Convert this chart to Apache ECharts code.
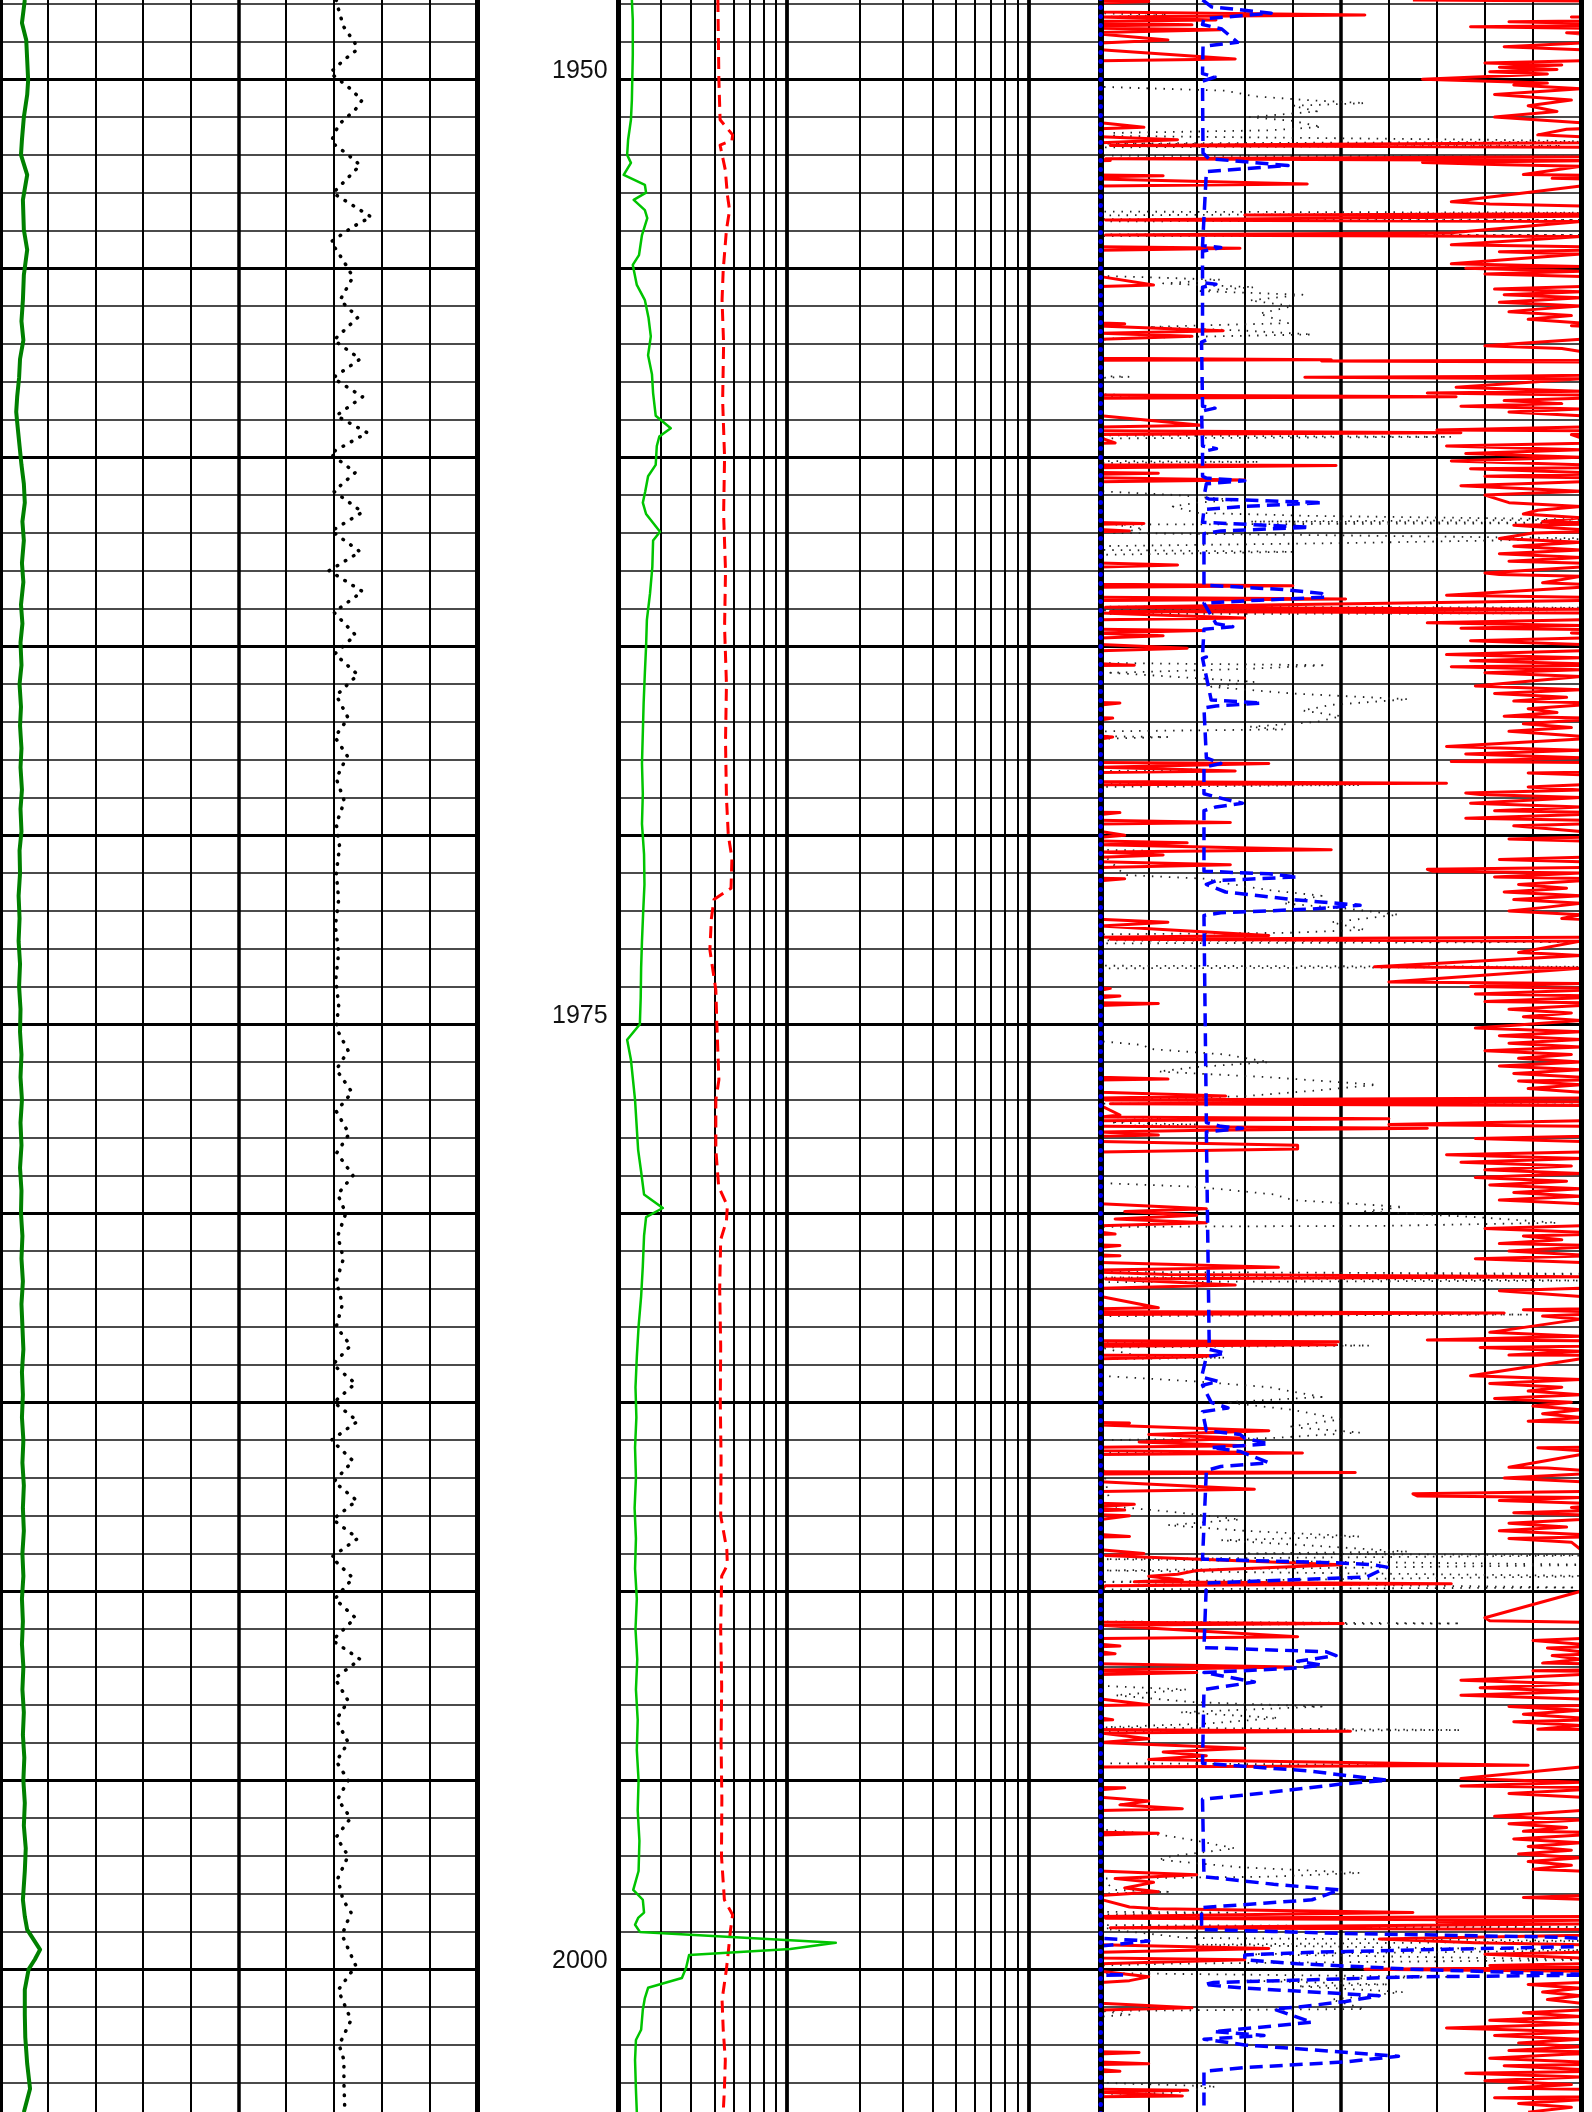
<!DOCTYPE html>
<html><head><meta charset="utf-8">
<script src="https://cdn.jsdelivr.net/npm/echarts@6/dist/echarts.min.js"></script>
<style>html,body{margin:0;padding:0;background:#fff}#c{width:1592px;height:2112px}</style>
</head><body><div id="c"></div><script>
// ---- scales / tick values ----
const DEPTH_RANGE = [1945, 2005];
const DEPTH_LABELS = [1950, 1975, 2000];
const TRACK1_RANGE = [0, 10];
const TRACK1_MID = [5];
const TRACK2_RANGE = [2, 200];
const TRACK2_MAJOR = [10, 100];
const TRACK2_MINOR = [3, 4, 5, 6, 7, 8, 9, 20, 30, 40, 50, 60, 70, 80, 90];
const TRACK3_RANGE = [0, 10];
const TRACK3_MID = [5];
const TRACK3_WRAP = [10, 20];

// ---- curves: [depth, value] ----
const gr1 = [[1947.9,0.52],[1948.51,0.46],[1948.96,0.55],[1949.49,0.57],[1950.02,0.59],[1950.41,0.57],[1951.0,0.5],[1951.6,0.46],[1952.0,0.44],[1952.53,0.57],[1953.19,0.48],[1953.98,0.5],[1954.51,0.57],[1955.18,0.5],[1955.84,0.48],[1956.4,0.45],[1956.9,0.49],[1957.4,0.42],[1957.9,0.4],[1958.4,0.36],[1958.8,0.34],[1959.2,0.37],[1959.7,0.41],[1960.2,0.45],[1960.7,0.5],[1961.2,0.52],[1961.7,0.47],[1962.2,0.5],[1962.8,0.46],[1963.3,0.49],[1963.9,0.44],[1964.4,0.47],[1964.9,0.43],[1965.5,0.45],[1966.0,0.41],[1966.6,0.44],[1967.1,0.42],[1967.7,0.45],[1968.2,0.43],[1968.8,0.46],[1969.3,0.43],[1969.9,0.45],[1970.4,0.41],[1971.0,0.42],[1971.6,0.39],[1972.2,0.41],[1972.8,0.39],[1973.4,0.42],[1974.0,0.4],[1974.6,0.43],[1975.2,0.42],[1975.8,0.45],[1976.4,0.43],[1977.0,0.46],[1977.6,0.43],[1978.2,0.45],[1978.8,0.42],[1979.4,0.45],[1980.0,0.44],[1980.6,0.47],[1981.2,0.45],[1981.8,0.48],[1982.4,0.45],[1983.0,0.47],[1983.6,0.49],[1984.2,0.46],[1984.8,0.48],[1985.4,0.46],[1986.0,0.49],[1986.6,0.47],[1987.2,0.5],[1987.8,0.48],[1988.4,0.5],[1989.0,0.47],[1989.6,0.49],[1990.2,0.46],[1990.8,0.48],[1991.4,0.46],[1992.0,0.49],[1992.6,0.47],[1993.2,0.5],[1993.8,0.48],[1994.4,0.51],[1995.0,0.49],[1995.6,0.52],[1996.2,0.5],[1996.8,0.54],[1997.4,0.52],[1998.16,0.48],[1998.6,0.52],[1998.95,0.57],[1999.48,0.84],[1999.74,0.73],[2000.0,0.6],[2000.54,0.52],[2001.2,0.52],[2001.8,0.53],[2002.5,0.57],[2003.16,0.63],[2003.78,0.5]];

const dt1 = [[1947.9,7.05],[1948.03,7.07],[1948.6,7.2],[1949.04,7.44],[1949.22,7.48],[1949.5,7.2],[1949.83,6.92],[1950.2,7.3],[1950.55,7.59],[1950.8,7.45],[1951.2,7.1],[1951.66,6.94],[1952.0,7.3],[1952.27,7.55],[1952.6,7.3],[1953.01,6.98],[1953.3,7.35],[1953.64,7.78],[1953.9,7.4],[1954.3,6.94],[1954.8,7.2],[1955.23,7.4],[1955.84,7.13],[1956.3,7.5],[1956.9,7.0],[1957.4,7.55],[1957.9,6.98],[1958.4,7.6],[1958.9,7.05],[1959.35,7.7],[1959.9,6.92],[1960.4,7.45],[1960.9,7.0],[1961.45,7.6],[1961.95,6.95],[1962.5,7.55],[1963.0,6.9],[1963.55,7.6],[1964.1,7.0],[1964.7,7.45],[1965.2,7.02],[1965.75,7.5],[1966.3,7.05],[1966.9,7.3],[1967.4,7.02],[1967.9,7.28],[1968.5,7.05],[1969.1,7.22],[1969.7,7.05],[1970.3,7.12],[1971.0,7.05],[1971.7,7.1],[1972.4,7.03],[1973.1,7.1],[1973.8,7.04],[1974.5,7.1],[1975.1,7.05],[1975.7,7.3],[1976.2,7.05],[1976.8,7.38],[1977.3,7.05],[1977.9,7.32],[1978.4,7.06],[1979.0,7.4],[1979.5,7.08],[1980.0,7.25],[1980.6,7.08],[1981.2,7.2],[1981.8,7.05],[1982.4,7.18],[1983.0,7.05],[1983.5,7.35],[1984.0,6.98],[1984.5,7.45],[1985.0,7.0],[1985.5,7.5],[1986.0,6.95],[1986.55,7.4],[1987.1,7.0],[1987.6,7.48],[1988.1,6.98],[1988.6,7.5],[1989.1,6.95],[1989.65,7.4],[1990.2,7.02],[1990.7,7.45],[1991.3,6.97],[1991.8,7.55],[1992.3,7.02],[1992.9,7.3],[1993.4,7.05],[1994.0,7.3],[1994.5,7.05],[1995.0,7.3],[1995.5,7.08],[1996.0,7.35],[1996.5,7.05],[1997.0,7.3],[1997.6,7.08],[1998.16,7.19],[1998.5,7.36],[1999.09,7.17],[1999.91,7.46],[2000.55,7.09],[2001.34,7.36],[2002.0,7.11],[2002.4,7.21],[2003.0,7.21],[2003.78,7.23]];

const gr2 = [[1947.9,2.27],[1948.43,2.29],[1949.36,2.29],[1950.55,2.27],[1951.07,2.25],[1951.6,2.19],[1952.0,2.17],[1952.21,2.25],[1952.53,2.1],[1952.79,2.57],[1953.0,2.6],[1953.19,2.31],[1953.46,2.57],[1953.67,2.63],[1954.12,2.5],[1954.65,2.43],[1954.91,2.29],[1955.44,2.38],[1955.84,2.57],[1956.3,2.66],[1956.8,2.72],[1957.3,2.65],[1957.8,2.75],[1958.3,2.78],[1958.9,2.85],[1959.23,3.29],[1959.45,2.95],[1959.7,2.88],[1960.2,2.85],[1960.5,2.65],[1960.9,2.58],[1961.2,2.52],[1961.5,2.6],[1961.97,2.97],[1962.2,2.78],[1962.9,2.76],[1963.6,2.7],[1964.3,2.62],[1965.0,2.6],[1965.7,2.57],[1966.5,2.54],[1967.3,2.52],[1968.1,2.5],[1968.9,2.52],[1969.7,2.5],[1970.5,2.55],[1971.3,2.56],[1972.0,2.53],[1972.8,2.5],[1973.5,2.48],[1974.3,2.47],[1975.0,2.45],[1975.41,2.17],[1975.94,2.25],[1977.0,2.34],[1978.32,2.41],[1978.9,2.48],[1979.5,2.55],[1979.86,3.05],[1980.1,2.6],[1980.6,2.55],[1981.4,2.52],[1982.2,2.48],[1983.0,2.42],[1983.8,2.38],[1984.6,2.35],[1985.4,2.37],[1986.2,2.34],[1987.0,2.36],[1987.8,2.33],[1988.6,2.36],[1989.4,2.34],[1990.2,2.38],[1991.0,2.35],[1991.8,2.39],[1992.6,2.36],[1993.4,2.4],[1994.2,2.38],[1995.0,2.42],[1995.8,2.4],[1996.6,2.44],[1997.4,2.42],[1997.9,2.3],[1998.16,2.52],[1998.5,2.55],[1998.64,2.41],[1998.82,2.34],[1999.01,2.45],[1999.3,15.9],[1999.46,10.3],[1999.62,3.92],[1999.96,3.81],[2000.23,3.66],[2000.49,2.65],[2000.76,2.57],[2001.07,2.52],[2001.6,2.48],[2001.87,2.36],[2002.4,2.34],[2003.19,2.36],[2003.78,2.38]];

const rd2 = [[1947.9,5.16],[1950.02,5.21],[1951.07,5.27],[1951.47,5.94],[1951.62,5.9],[1951.74,5.27],[1952.4,5.54],[1953.06,5.65],[1953.46,5.77],[1953.98,5.6],[1955.04,5.43],[1955.84,5.37],[1957.0,5.45],[1958.5,5.4],[1960.0,5.5],[1961.5,5.45],[1963.0,5.55],[1964.5,5.5],[1966.0,5.6],[1967.5,5.55],[1969.0,5.6],[1970.0,5.7],[1970.6,5.9],[1971.4,5.85],[1971.7,4.97],[1972.2,4.85],[1973.03,4.78],[1974.09,5.06],[1975.0,5.11],[1976.47,5.21],[1977.0,5.06],[1978.32,5.06],[1979.3,5.2],[1979.8,5.65],[1980.2,5.6],[1980.7,5.3],[1982.0,5.25],[1983.5,5.3],[1985.0,5.28],[1986.5,5.32],[1988.0,5.3],[1988.9,5.62],[1989.3,5.65],[1989.6,5.35],[1991.0,5.3],[1992.5,5.35],[1994.0,5.32],[1995.5,5.36],[1997.0,5.34],[1998.16,5.49],[1998.56,5.94],[1998.96,5.82],[1999.49,5.71],[1999.99,5.6],[2000.81,5.37],[2001.6,5.43],[2002.4,5.54],[2003.19,5.49],[2003.78,5.43]];

const res3 = [[1947.9,6.5],[1947.94,11.0],[1947.98,10],[1948.22,10],[1948.3,15.5],[1948.35,9.8],[1948.43,12.4],[1948.48,8.5],[1948.56,11.9],[1948.61,7.7],[1948.69,12.5],[1948.77,9.7],[1948.96,11.4],[1949.04,10],[1949.14,8.4],[1949.22,10],[1949.46,12.8],[1949.51,10],[1949.57,8.0],[1949.62,9.6],[1949.68,8.3],[1949.74,9.5],[1949.8,8.1],[1949.86,9.3],[1950.0,6.7],[1950.1,9.3],[1950.15,8.6],[1950.25,10],[1950.4,8.2],[1950.55,9.8],[1950.7,8.9],[1950.85,9.5],[1951.0,8.2],[1951.15,10],[1951.27,10.9],[1951.32,9.7],[1951.47,9.1],[1951.52,10],[1951.6,11.6],[1951.68,10],[1951.75,0.2],[1951.8,10],[1952.05,10],[1952.1,0.1],[1952.15,10.2],[1952.2,6.7],[1952.26,8.4],[1952.3,10],[1952.52,8.8],[1952.55,11.3],[1952.58,10],[1952.62,9.4],[1952.77,14.3],[1952.82,10],[1953.24,7.3],[1953.3,8.1],[1953.35,10],[1953.56,10],[1953.59,3.0],[1953.62,10],[1953.72,0.1],[1953.76,10],[1954.06,7.3],[1954.12,0.1],[1954.16,10],[1954.38,7.3],[1954.43,10],[1954.47,12.9],[1954.52,10],[1954.56,8.3],[1954.62,10],[1954.88,7.3],[1954.95,10],[1955.0,7.6],[1955.08,10],[1955.15,8.0],[1955.22,10],[1955.44,11.1],[1955.48,10],[1955.55,8.2],[1955.62,10],[1955.7,8.4],[1955.78,10],[1955.9,8.3],[1956.0,10],[1956.08,9.1],[1956.15,8.5],[1956.25,9.8],[1956.35,8.9],[1956.45,10],[1956.47,10.5],[1956.52,9.8],[1956.65,12.55],[1956.72,10],[1956.8,11.9],[1956.88,10],[1957.05,8.0],[1957.12,9.6],[1957.2,10],[1957.38,10],[1957.42,14.8],[1957.45,4.6],[1957.48,10],[1957.83,10],[1957.86,7.97],[1957.88,4.25],[1957.92,10],[1958.15,7.4],[1958.25,10],[1958.3,6.8],[1958.35,10],[1958.4,17.4],[1958.44,10],[1958.5,8.4],[1958.58,9.6],[1958.65,7.5],[1958.72,10],[1958.8,8.5],[1958.9,10],[1959.15,12.1],[1959.2,10],[1959.28,7.0],[1959.35,17.5],[1959.4,9.8],[1959.62,10.3],[1959.7,7.2],[1959.8,10],[1959.9,7.6],[1960.0,10],[1960.1,7.3],[1960.2,10],[1960.22,14.9],[1960.3,7.7],[1960.4,10],[1960.42,11.2],[1960.5,8.0],[1960.6,13.0],[1960.65,10],[1960.75,7.5],[1960.9,10],[1961.0,8.0],[1961.2,8.5],[1961.3,10],[1961.4,9.1],[1961.5,8.8],[1961.6,10],[1961.7,9.2],[1961.75,10.9],[1961.8,8.6],[1961.9,9.8],[1961.95,10.6],[1962.0,9.0],[1962.15,8.3],[1962.25,10],[1962.35,8.6],[1962.45,10],[1962.55,8.3],[1962.65,10],[1962.75,8.5],[1962.85,11.6],[1962.9,10],[1963.06,8.0],[1963.1,8.3],[1963.15,10],[1963.32,9.2],[1963.36,10],[1963.4,14.0],[1963.44,10],[1963.65,7.2],[1963.7,10],[1963.75,15.1],[1963.79,10],[1963.97,0.1],[1964.02,10],[1964.08,0.2],[1964.12,10],[1964.25,13.0],[1964.3,10],[1964.38,6.8],[1964.45,10],[1964.52,7.5],[1964.58,12.1],[1964.65,9.8],[1964.72,11.3],[1964.78,10],[1964.85,7.7],[1964.95,10],[1965.05,11.8],[1965.12,10],[1965.22,7.2],[1965.3,10],[1965.38,7.7],[1965.46,10],[1965.5,10.7],[1965.54,7.3],[1965.62,10],[1965.7,8.0],[1965.8,10],[1966.05,7.8],[1966.15,10],[1966.25,8.2],[1966.35,9.7],[1966.45,8.6],[1966.5,10.4],[1966.55,10],[1966.65,8.9],[1966.75,9.5],[1966.85,8.4],[1966.9,10.25],[1966.95,10],[1967.05,8.8],[1967.15,9.8],[1967.25,8.5],[1967.4,10.25],[1967.45,10],[1967.65,7.2],[1967.75,10],[1967.85,7.6],[1967.95,10],[1968.05,7.3],[1968.1,13.5],[1968.2,10],[1968.3,12.8],[1968.35,8.9],[1968.4,10],[1968.58,10],[1968.62,17.2],[1968.66,10],[1968.72,8.9],[1968.8,10],[1968.88,7.6],[1968.92,7.9],[1969.0,10],[1969.15,7.7],[1969.25,10],[1969.35,8.2],[1969.4,10.4],[1969.45,10],[1969.55,7.6],[1969.66,12.7],[1969.7,10],[1969.75,8.6],[1969.9,10],[1970.0,10.5],[1970.05,10],[1970.1,8.5],[1970.15,10],[1970.2,11.8],[1970.25,10],[1970.38,14.8],[1970.44,10],[1970.52,11.3],[1970.58,10],[1970.64,8.3],[1970.7,10],[1970.78,12.7],[1970.85,10],[1970.9,6.8],[1970.95,6.9],[1971.0,10],[1971.1,8.2],[1971.15,10.5],[1971.2,10],[1971.3,8.7],[1971.4,9.7],[1971.5,8.4],[1971.6,10],[1971.7,8.6],[1971.8,10],[1971.9,9.3],[1972.0,8.5],[1972.1,10],[1972.2,9.6],[1972.3,11.4],[1972.4,10],[1972.65,13.5],[1972.7,10],[1972.75,0.2],[1972.8,10],[1973.1,8.7],[1973.14,9.4],[1973.18,10],[1973.48,5.7],[1973.52,10],[1973.88,6.0],[1973.92,10],[1974.0,7.7],[1974.05,10.2],[1974.1,10],[1974.2,7.8],[1974.25,10.4],[1974.3,10],[1974.4,8.0],[1974.45,11.2],[1974.5,10],[1974.6,8.5],[1974.7,9.8],[1974.8,8.8],[1974.9,10],[1975.1,7.8],[1975.2,10],[1975.3,8.3],[1975.4,10],[1975.5,8.5],[1975.6,10],[1975.7,8.0],[1975.8,9.8],[1975.9,8.7],[1976.0,10],[1976.1,8.3],[1976.2,10],[1976.3,8.6],[1976.4,10],[1976.45,11.4],[1976.5,8.7],[1976.6,10],[1976.7,8.9],[1976.8,10],[1976.9,12.6],[1976.95,10],[1977.0,0.1],[1977.05,10],[1977.1,0.2],[1977.15,10],[1977.4,10.4],[1977.45,10],[1977.5,16.0],[1977.55,10],[1977.65,6.0],[1977.7,10],[1977.75,16.8],[1977.8,12.2],[1977.85,10],[1977.93,11.2],[1978.02,7.8],[1978.1,10],[1978.2,14.1],[1978.3,14.1],[1978.38,10],[1978.45,7.2],[1978.55,10],[1978.65,7.5],[1978.75,9.8],[1978.85,8.0],[1978.95,10],[1979.05,7.8],[1979.15,9.7],[1979.25,8.1],[1979.35,10],[1979.45,8.6],[1979.55,10],[1979.65,8.3],[1979.75,10],[1979.88,12.2],[1979.95,10.5],[1980.05,12.0],[1980.15,10.3],[1980.25,12.2],[1980.33,10],[1980.4,8.0],[1980.5,10],[1980.55,10.3],[1980.6,8.8],[1980.7,9.6],[1980.8,8.3],[1980.85,10.4],[1980.9,10],[1981.0,8.5],[1981.1,10],[1981.12,10.4],[1981.2,7.8],[1981.3,10],[1981.43,13.7],[1981.5,10],[1981.56,10],[1981.62,11.4],[1981.68,20.1],[1981.74,10.1],[1981.9,12.8],[1981.98,10],[1982.05,8.3],[1982.2,10],[1982.5,11.2],[1982.55,8.8],[1982.6,10],[1982.64,18.4],[1982.68,10],[1982.72,9.2],[1982.8,10],[1983.15,8.1],[1983.25,10],[1983.35,6.8],[1983.4,14.95],[1983.45,10],[1983.48,14.9],[1983.52,10],[1983.55,7.9],[1983.65,10],[1983.75,8.5],[1983.76,12.4],[1983.8,11.9],[1983.85,10],[1984.3,7.7],[1984.4,10],[1984.5,8.1],[1984.6,9.6],[1984.7,8.9],[1984.8,10],[1984.9,8.2],[1985.0,9.8],[1985.1,9.0],[1985.2,10],[1985.3,9.2],[1985.4,10],[1985.5,8.9],[1985.55,10.6],[1985.6,10],[1985.75,13.5],[1985.85,11.0],[1985.95,13.0],[1986.05,10.8],[1986.15,13.0],[1986.2,9.1],[1986.28,10],[1986.31,12.1],[1986.34,14.2],[1986.38,10],[1986.72,8.5],[1986.74,9.3],[1986.8,10],[1986.84,10.1],[1986.86,15.3],[1986.9,10],[1987.0,8.4],[1987.1,10],[1987.3,13.2],[1987.36,10],[1987.42,6.5],[1987.48,6.6],[1987.52,10],[1987.6,8.3],[1987.7,10.7],[1987.78,9.8],[1987.85,10.5],[1987.92,8.6],[1988.0,10.6],[1988.1,10],[1988.2,8.5],[1988.3,9.7],[1988.4,8.3],[1988.5,10],[1988.55,10.6],[1988.6,8.5],[1988.7,9.8],[1988.9,10],[1989.0,10.9],[1989.05,10.1],[1989.1,11.0],[1989.3,15.0],[1989.45,12.0],[1989.55,11.6],[1989.6,11.0],[1989.7,11.7],[1989.75,10.7],[1989.8,17.3],[1989.85,10.1],[1990.0,10],[1990.7,8.0],[1990.78,8.1],[1990.82,10],[1990.85,15.05],[1990.9,10],[1991.2,14.1],[1991.25,10],[1991.3,9.0],[1991.4,10],[1991.45,10.4],[1991.5,9.3],[1991.6,10],[1991.65,10.3],[1991.7,9.4],[1991.8,10],[1991.9,9.2],[1992.0,14.0],[1992.08,10],[1992.1,9.0],[1992.15,12.0],[1992.2,10],[1992.35,7.5],[1992.45,10],[1992.55,7.9],[1992.65,10],[1992.75,7.5],[1992.85,10],[1993.0,11.0],[1993.05,8.5],[1993.15,10],[1993.25,8.8],[1993.35,10],[1993.4,10.25],[1993.45,8.6],[1993.55,10],[1993.65,9.1],[1993.7,15.2],[1993.75,10],[1993.9,11.0],[1994.0,10],[1994.15,13.0],[1994.25,11.3],[1994.35,12.2],[1994.45,11.0],[1994.6,18.9],[1994.65,10],[1994.95,7.5],[1995.05,10],[1995.15,7.5],[1995.2,10.5],[1995.25,10],[1995.35,8.5],[1995.45,10],[1995.55,11.0],[1995.65,10.4],[1995.75,11.7],[1995.8,10],[1995.95,8.2],[1996.05,10],[1996.15,8.5],[1996.25,9.7],[1996.35,8.8],[1996.4,11.2],[1996.45,10],[1996.55,8.6],[1996.65,10],[1996.75,8.9],[1996.85,9.8],[1996.95,8.7],[1997.05,10],[1997.15,8.9],[1997.25,9.8],[1997.35,9.0],[1997.5,12.0],[1997.6,10.3],[1997.7,11.1],[1997.85,10.5],[1997.95,11.2],[1998.05,10],[1998.1,8.8],[1998.15,10],[1998.35,10.6],[1998.4,11.2],[1998.5,16.5],[1998.6,10],[1998.65,0.1],[1998.7,10],[1998.75,7.0],[1998.8,10],[1998.9,0.2],[1998.95,10],[1999.1,10],[1999.2,5.8],[1999.3,7.8],[1999.35,10],[1999.45,13.5],[1999.55,10],[1999.6,8.0],[1999.7,10],[1999.75,13.0],[1999.85,10],[1999.9,8.1],[1999.95,10],[2000.0,5.5],[2000.05,10],[2000.2,11.0],[2000.3,10.6],[2000.35,10],[2000.4,8.9],[2000.5,10],[2000.6,9.2],[2000.7,10],[2000.8,9.3],[2000.9,10],[2001.02,11.9],[2001.08,10],[2001.15,8.8],[2001.25,10],[2001.35,8.1],[2001.45,10],[2001.55,7.2],[2001.65,10],[2001.75,8.2],[2001.85,10],[2001.95,8.7],[2002.05,10],[2002.15,8.5],[2002.2,10.8],[2002.25,9.7],[2002.35,8.1],[2002.45,10],[2002.5,11.0],[2002.55,8.4],[2002.65,10],[2002.7,10.4],[2002.75,7.6],[2002.85,10],[2002.95,8.0],[2003.05,9.8],[2003.15,8.5],[2003.2,11.8],[2003.25,10],[2003.35,11.7],[2003.4,8.2],[2003.45,10],[2003.55,8.7],[2003.65,9.8],[2003.78,8.9]];

const dot3 = [[1947.9,0],[1948.25,0],[1948.3,1.4],[1948.35,0],[1950.2,0],[1950.3,2.6],[1950.45,3.2],[1950.55,4.3],[1950.63,5.5],[1950.7,4.0],[1950.85,4.5],[1951.0,3.1],[1951.1,4.0],[1951.26,4.6],[1951.35,3.5],[1951.42,0.2],[1951.5,0.3],[1951.6,8.1],[1951.65,10.5],[1951.7,0],[1951.76,9.6],[1951.8,0],[1952.02,0],[1952.05,10.5],[1952.1,0],[1953.5,0],[1953.53,10.5],[1953.6,0],[1953.7,0],[1953.72,10.5],[1953.76,0],[1954.1,0],[1954.12,10.5],[1954.15,0],[1955.2,0],[1955.3,2.5],[1955.4,1.3],[1955.5,3.2],[1955.6,2.0],[1955.7,4.2],[1955.85,3.1],[1956.0,4.0],[1956.2,3.3],[1956.45,3.9],[1956.55,1.0],[1956.65,3.0],[1956.75,4.4],[1956.85,0.3],[1956.9,0],[1957.85,0],[1957.87,0.6],[1957.9,0],[1958.33,0],[1958.36,0.7],[1958.4,0],[1959.42,0],[1959.46,7.3],[1959.5,0],[1960.1,0],[1960.12,3.3],[1960.15,0],[1960.9,0],[1961.0,1.6],[1961.13,2.8],[1961.2,2.0],[1961.3,1.5],[1961.47,2.0],[1961.55,4.4],[1961.65,10.5],[1961.7,3.1],[1961.74,10.5],[1961.78,0.3],[1961.9,0.9],[1962.0,0.2],[1962.06,4.6],[1962.15,10.5],[1962.27,5.0],[1962.35,0],[1962.45,0],[1962.5,4.0],[1962.58,0],[1963.95,0],[1963.98,10.5],[1964.05,0],[1964.1,0],[1964.12,10.5],[1964.15,0],[1965.44,0],[1965.5,4.7],[1965.6,3.0],[1965.7,0.2],[1965.94,3.2],[1966.07,2.3],[1966.25,4.0],[1966.4,6.4],[1966.55,4.8],[1966.7,4.2],[1966.85,5.0],[1967.0,4.5],[1967.13,3.1],[1967.2,3.8],[1967.25,0],[1967.38,0],[1967.4,1.4],[1967.45,0],[1968.2,0],[1968.27,2.2],[1968.3,0],[1968.64,0],[1968.67,5.4],[1968.72,0],[1970.38,0],[1970.42,1.3],[1970.45,0],[1971.05,0.5],[1971.15,2.2],[1971.27,2.6],[1971.45,3.5],[1971.6,4.6],[1971.8,3.8],[1971.95,5.2],[1972.1,6.2],[1972.3,4.8],[1972.5,5.5],[1972.58,3.9],[1972.62,0],[1972.78,0],[1972.82,10.5],[1972.86,0],[1973.45,0],[1973.48,10.5],[1973.52,0],[1975.45,0],[1975.55,0.9],[1975.65,1.0],[1975.8,2.6],[1976.0,3.5],[1976.13,2.0],[1976.25,1.2],[1976.4,3.5],[1976.6,5.75],[1976.75,4.5],[1976.9,3.0],[1977.0,0.2],[1977.07,10.5],[1977.1,0],[1977.45,0],[1977.48,1.3],[1977.6,0.2],[1977.65,2.0],[1977.7,0],[1979.2,0],[1979.3,2.0],[1979.5,3.6],[1979.65,4.0],[1979.83,6.3],[1979.95,5.5],[1980.1,7.8],[1980.25,9.5],[1980.33,6.0],[1980.36,0],[1981.55,0],[1981.6,10.5],[1981.7,0],[1981.78,10.5],[1981.82,0],[1982.62,0],[1982.68,8.9],[1982.72,0],[1983.4,0],[1983.5,5.6],[1983.55,0],[1983.78,0.8],[1983.82,2.6],[1983.86,0],[1984.3,0],[1984.45,2.0],[1984.6,3.5],[1984.86,4.6],[1985.0,2.6],[1985.2,4.0],[1985.45,5.0],[1985.65,3.9],[1985.8,5.4],[1985.95,3.5],[1986.0,0],[1986.33,0],[1986.35,1.7],[1986.38,0],[1987.75,0.2],[1987.9,1.5],[1988.1,2.9],[1988.25,1.4],[1988.4,3.0],[1988.55,5.4],[1988.65,2.5],[1988.8,4.5],[1988.95,6.4],[1989.0,3.0],[1989.05,10.5],[1989.15,0],[1989.3,10.5],[1989.45,0],[1989.6,10.5],[1989.75,0],[1989.9,9.9],[1989.95,0],[1990.8,0],[1990.85,7.5],[1990.9,0],[1992.5,0],[1992.6,1.8],[1992.75,0.3],[1992.93,1.9],[1993.05,4.6],[1993.2,1.65],[1993.35,3.7],[1993.5,2.2],[1993.6,0],[1993.67,7.5],[1993.72,0],[1994.55,0],[1994.6,7.8],[1994.65,0],[1996.3,0],[1996.45,1.3],[1996.6,2.0],[1996.8,2.8],[1997.0,1.5],[1997.1,1.2],[1997.3,2.9],[1997.45,5.4],[1997.55,3.5],[1997.6,0],[1997.9,0.3],[1997.95,1.4],[1998.0,0],[1998.48,0],[1998.5,2.9],[1998.55,0],[1998.83,0],[1998.88,10.5],[1998.92,0],[1999.17,1.8],[1999.25,10.5],[1999.35,2.0],[1999.5,10.5],[1999.6,3.0],[1999.75,10.5],[1999.85,1.5],[1999.9,0],[2000.1,0],[2000.2,7.2],[2000.3,3.0],[2000.4,6.0],[2000.45,4.1],[2000.6,6.3],[2000.8,4.8],[2001.05,5.5],[2001.1,0],[2001.2,0.6],[2001.25,0],[2003.0,0],[2003.1,2.4],[2003.27,1.5],[2003.3,0],[2003.78,0]];

const blu3 = [[1947.9,2.12],[1948.08,2.3],[1948.25,3.55],[1948.4,2.15],[1948.55,2.12],[1948.67,2.52],[1949.02,2.85],[1949.13,2.13],[1949.85,2.12],[1949.94,2.38],[1950.05,2.12],[1951.95,2.13],[1952.1,2.25],[1952.28,3.9],[1952.44,2.2],[1954.4,2.12],[1954.45,2.5],[1954.55,2.12],[1955.38,2.12],[1955.42,2.4],[1955.5,2.12],[1956.85,2.12],[1956.9,2.2],[1956.95,2.1],[1958.65,2.12],[1958.7,2.38],[1958.78,2.1],[1959.7,2.12],[1959.77,2.41],[1959.85,2.12],[1960.5,2.12],[1960.55,2.2],[1960.62,3.0],[1960.7,2.2],[1961.05,2.15],[1961.1,2.25],[1961.2,4.62],[1961.3,3.0],[1961.38,2.15],[1961.72,2.12],[1961.85,4.35],[1961.95,2.5],[1962.02,2.15],[1963.38,2.15],[1963.5,3.8],[1963.6,4.6],[1963.7,4.7],[1963.78,3.3],[1963.86,2.15],[1964.4,2.4],[1964.48,2.75],[1964.55,2.15],[1965.25,2.12],[1965.28,2.2],[1965.32,2.12],[1966.42,2.3],[1966.5,3.35],[1966.58,2.4],[1966.63,2.15],[1967.95,2.2],[1968.1,2.5],[1968.2,2.15],[1968.9,2.15],[1969.05,2.6],[1969.15,2.95],[1969.25,2.4],[1969.35,2.15],[1970.95,2.15],[1971.02,3.5],[1971.1,4.1],[1971.2,2.4],[1971.3,2.2],[1971.5,2.6],[1971.7,4.0],[1971.85,5.4],[1971.95,4.4],[1972.05,2.5],[1972.12,2.15],[1977.6,2.2],[1977.7,2.5],[1977.75,2.95],[1977.85,2.2],[1983.6,2.26],[1983.7,2.6],[1983.8,2.2],[1984.33,2.1],[1984.45,2.45],[1984.55,2.12],[1985.0,2.3],[1985.15,2.65],[1985.25,2.12],[1985.75,2.2],[1985.85,2.9],[1985.95,3.0],[1986.1,3.5],[1986.2,2.3],[1986.3,2.9],[1986.45,3.2],[1986.6,3.5],[1986.7,2.5],[1986.8,2.2],[1989.15,2.12],[1989.25,4.98],[1989.3,5.67],[1989.36,5.96],[1989.62,5.54],[1989.78,2.2],[1991.49,2.15],[1991.6,4.7],[1991.7,4.9],[1991.85,4.1],[1991.95,4.6],[1992.03,4.1],[1992.15,2.15],[1992.4,3.2],[1992.6,2.15],[1994.55,2.12],[1994.75,4.3],[1995.0,5.97],[1995.1,5.0],[1995.35,3.3],[1995.5,2.12],[1997.55,2.15],[1997.75,3.6],[1997.9,4.98],[1998.16,4.4],[1998.37,2.1],[1998.95,2.1],[1999.0,3.6],[1999.05,5.0],[1999.15,9.5],[1999.25,11.0],[1999.4,9.9],[1999.47,7.2],[1999.55,4.4],[1999.62,3.0],[1999.75,3.0],[1999.85,4.1],[2000.0,6.5],[2000.1,9.1],[2000.15,10.5],[2000.2,6.5],[2000.35,2.35],[2000.4,2.15],[2000.5,3.0],[2000.7,5.8],[2000.85,5.1],[2001.0,4.1],[2001.05,3.6],[2001.4,4.4],[2001.65,2.35],[2001.75,3.4],[2001.85,2.15],[2002.0,3.0],[2002.3,6.2],[2002.45,5.1],[2002.6,3.0],[2002.7,2.15],[2003.78,2.15]];

const edge3 = [[1945,0],[2005,0]];

// ---- build chart ----
const chart = echarts.init(document.getElementById('c'), null, {renderer: 'canvas'});
const pts = arr => arr.map(p => [p[1], p[0]]);
const GRID_TOP = -109.7, GRID_H = 2268;
const FONT = 'Liberation Sans, Arial, Helvetica, sans-serif';

function depthAxis(gi, labels) {
  return {
    type: 'value', gridIndex: gi, inverse: true, min: DEPTH_RANGE[0], max: DEPTH_RANGE[1], interval: 5,
    axisLine: {show: false}, axisTick: {show: false},
    axisLabel: labels ? {show: true, margin: 11, fontSize: 25, fontFamily: FONT, color: '#111',
      verticalAlign: 'bottom', lineHeight: 16,
      formatter: v => DEPTH_LABELS.indexOf(v) >= 0 ? String(v) : ''} : {show: false},
    splitLine: {show: true, lineStyle: {color: '#000', width: 3}},
    minorTick: {show: false, splitNumber: 5},
    minorSplitLine: {show: true, lineStyle: {color: '#111', width: 1.5}}
  };
}
function linAxis(gi, range, split) {
  return {type: 'value', gridIndex: gi, min: range[0], max: range[1], interval: 1,
    axisLine: {show: false}, axisTick: {show: false}, axisLabel: {show: false},
    splitLine: {show: split, lineStyle: {color: '#000', width: 2}}};
}
function gridLines(xi, yi, values, width, z) {
  return {type: 'line', xAxisIndex: xi, yAxisIndex: yi, data: [], silent: true, z: z, clip: false,
    markLine: {silent: true, symbol: ['none', 'none'], animation: false, z: z,
      label: {show: false}, emphasis: {disabled: true},
      lineStyle: {color: '#000', width: width, type: 'solid'},
      data: values.map(v => ({xAxis: v}))}};
}
function curve(arr, xi, yi, color, width, type, z, cap) {
  return {type: 'line', xAxisIndex: xi, yAxisIndex: yi, data: pts(arr), showSymbol: false, symbol: 'none',
    silent: true, z: z, clip: true, animation: false,
    lineStyle: {color: color, width: width, type: type, cap: cap || 'butt', join: 'round'},
    emphasis: {disabled: true}};
}
function gridBox(left, width) {
  return {left: left, width: width, top: GRID_TOP, height: GRID_H, show: false,
    containLabel: false, outerBoundsMode: 'none'};
}

chart.setOption({
  animation: false,
  backgroundColor: '#ffffff',
  textStyle: {fontFamily: FONT},
  grid: [gridBox(0, 477), gridBox(618.6, 482.4), gridBox(1100.7, 480.3)],
  xAxis: [
    linAxis(0, TRACK1_RANGE, true),
    {type: 'log', gridIndex: 1, logBase: 10, min: TRACK2_RANGE[0], max: TRACK2_RANGE[1],
      axisLine: {show: false}, axisTick: {show: false}, axisLabel: {show: false}, splitLine: {show: false}},
    linAxis(2, TRACK3_RANGE, true),
    linAxis(2, TRACK3_WRAP, false)
  ],
  yAxis: [depthAxis(0, false), depthAxis(1, true), depthAxis(2, false)],
  series: [
    gridLines(0, 0, TRACK1_MID, 3.5, 1),
    gridLines(1, 1, TRACK2_MINOR, 2, 1),
    gridLines(1, 1, TRACK2_MAJOR, 3.8, 1),
    gridLines(2, 2, TRACK3_MID, 3.5, 1),
    curve(gr1, 0, 0, '#008000', 4, 'solid', 3),
    curve(dt1, 0, 0, '#000000', 3.5, [0.5, 9], 3, 'round'),
    curve(rd2, 1, 1, '#ff0000', 3, [12, 7], 3),
    curve(gr2, 1, 1, '#00c400', 2.5, 'solid', 4),
    curve(dot3, 2, 2, '#222222', 1.8, [1.5, 7], 2),
    curve(res3, 2, 2, '#ff0000', 3, 'solid', 3),
    curve(res3, 3, 2, '#ff0000', 3, 'solid', 3),
    curve(blu3, 2, 2, '#0000ff', 3.5, [13, 7], 4),
    curve(blu3, 3, 2, '#0000ff', 3.5, [13, 7], 4),
    gridLines(0, 0, TRACK1_RANGE, 5, 8),
    gridLines(1, 1, TRACK2_RANGE, 5, 8),
    gridLines(2, 2, TRACK3_RANGE, 5, 8),
    curve(edge3, 2, 2, '#0000ff', 4.5, [0.5, 8.5], 9, 'round')
  ]
});
</script></body></html>
